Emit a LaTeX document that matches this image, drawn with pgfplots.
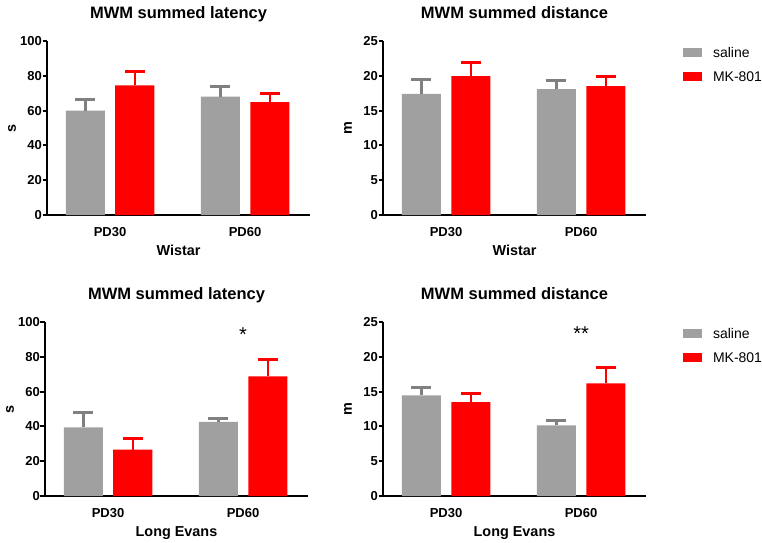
\documentclass[border=0pt]{standalone}
\usepackage{fontspec}
\setmainfont{Liberation Sans}
\usepackage{pgfplots}
\pgfplotsset{compat=1.18}
\definecolor{bargrey}{HTML}{A0A0A0}
\definecolor{errgrey}{HTML}{808080}
\definecolor{barred}{HTML}{FF0000}

\pgfplotsset{
 mwm/.style={
  scale only axis, width=263pt, height=174pt,
  xmin=-0.467, xmax=1.481, ymin=0,
  axis x line=bottom, axis y line=left,
  axis line style={-, line width=2pt, black},
  xtick={0,1}, xticklabels={PD30,PD60},
  x tick style={draw=none},
  y tick style={line width=2pt, black},
  tick align=outside, major tick length=4.5pt,
  minor tick num=0,
  /pgf/number format/assume math mode=true,
  tick label style={font=\bfseries\fontsize{13}{13}\selectfont},
  yticklabel style={inner sep=0pt, anchor=east, xshift=-0.5pt},
  xticklabel style={inner sep=0pt, anchor=base, yshift=-16.5pt},
  title style={at={(0.5,1)}, anchor=base, yshift=16.5pt, inner sep=0pt,
     font=\bfseries\fontsize{16.5}{16.5}\selectfont},
  every axis x label/.style={at={(axis description cs:0.5,0)}, anchor=base,
     yshift=-40pt, inner sep=0pt, font=\bfseries\fontsize{14.4}{14.4}\selectfont},
  every axis y label/.style={at={(axis description cs:0,0.5)}, anchor=center,
     xshift=-35pt, rotate=90, inner sep=0pt, font=\bfseries\fontsize{14.4}{14.4}\selectfont},
  clip=false,
 },
 greybars/.style={ybar, bar width=0.289, bar shift=0pt, fill=bargrey, draw=none, mark=none,
   error bars/y dir=plus, error bars/y explicit,
   error bars/error bar style={draw=errgrey, line width=2.5pt},
   error bars/error mark options={rotate=90, draw=errgrey, line width=3pt, mark size=10pt}},
 redbars/.style={ybar, bar width=0.289, bar shift=0pt, fill=barred, draw=none, mark=none,
   error bars/y dir=plus, error bars/y explicit,
   error bars/error bar style={draw=barred, line width=2.5pt},
   error bars/error mark options={rotate=90, draw=barred, line width=3pt, mark size=10pt}},
 mwmlegend/.style={
   legend style={at={(axis description cs:1.1407,1.003)}, anchor=north west,
     draw=none, fill=none, inner sep=0pt, outer sep=0pt, row sep=0pt,
     nodes={inner sep=0pt, text height=17pt, text depth=7.2pt,
        font=\fontsize{14}{14}\selectfont, anchor=base west},
     /tikz/every odd column/.append style={column sep=11pt}},
   legend image code/.code={\fill[##1,draw=none] (0pt,0.3pt) rectangle (19pt,9.3pt);},
 },
}

\begin{document}
\begin{tikzpicture}
\path[use as bounding box] (0pt,0pt) rectangle (762pt,542pt);

% Top-left: Wistar latency
\begin{axis}[mwm, at={(47pt,327pt)}, anchor=south west, ymax=100, ytick={0,20,40,60,80,100},
  title={MWM summed latency}, xlabel={Wistar}, ylabel={s}]
\addplot[greybars] coordinates {(-0.183,60.0) +- (0,6.5) (0.817,68.0) +- (0,6.1)};
\addplot[redbars] coordinates {(0.183,74.5) +- (0,7.7) (1.183,64.9) +- (0,5.0)};
\end{axis}

% Top-right: Wistar distance
\begin{axis}[mwm, mwmlegend, at={(383pt,327pt)}, anchor=south west, ymax=25, ytick={0,5,10,15,20,25},
  title={MWM summed distance}, xlabel={Wistar}, ylabel={m}]
\addplot[greybars] coordinates {(-0.183,17.4) +- (0,2.0) (0.817,18.1) +- (0,1.25)};
\addplot[redbars] coordinates {(0.183,19.95) +- (0,2.0) (1.183,18.5) +- (0,1.4)};
\legend{saline, MK-801}
\end{axis}

% Bottom-left: Long Evans latency
\begin{axis}[mwm, at={(45pt,46pt)}, anchor=south west, ymax=100, ytick={0,20,40,60,80,100},
  title={MWM summed latency}, xlabel={Long Evans}, ylabel={s}]
\addplot[greybars] coordinates {(-0.183,39.5) +- (0,8.7) (0.817,42.6) +- (0,2.1)};
\addplot[redbars] coordinates {(0.183,26.6) +- (0,6.2) (1.183,68.8) +- (0,9.6)};
\node[anchor=base, inner sep=0pt, font=\fontsize{20}{20}\selectfont] at (axis cs:1,89) {*};
\end{axis}

% Bottom-right: Long Evans distance
\begin{axis}[mwm, mwmlegend, at={(383pt,46pt)}, anchor=south west, ymax=25, ytick={0,5,10,15,20,25},
  title={MWM summed distance}, xlabel={Long Evans}, ylabel={m}]
\addplot[greybars] coordinates {(-0.183,14.47) +- (0,1.15) (0.817,10.15) +- (0,0.65)};
\addplot[redbars] coordinates {(0.183,13.5) +- (0,1.25) (1.183,16.2) +- (0,2.3)};
\node[anchor=base, inner sep=0pt, font=\fontsize{20}{20}\selectfont] at (axis cs:1,22.3) {**};
\legend{saline, MK-801}
\end{axis}
\end{tikzpicture}
\end{document}
